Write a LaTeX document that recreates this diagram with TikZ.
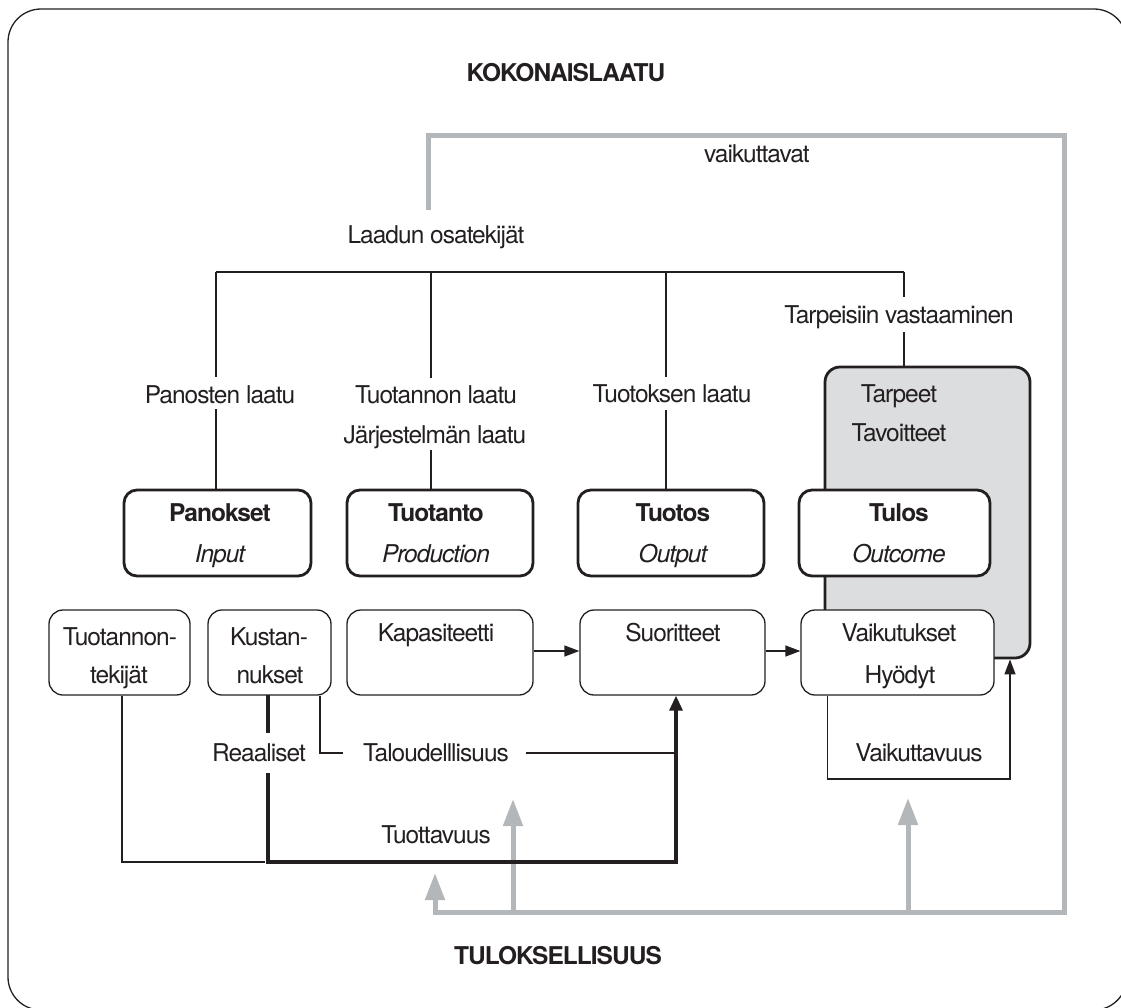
\documentclass[tikz,border=0pt]{standalone}
\usepackage{fontspec}
\setmainfont{TeX Gyre Heros}[LetterSpace=-4]
\usetikzlibrary{arrows.meta,calc}
\definecolor{ink}{HTML}{231F20}
\definecolor{loopgray}{HTML}{B4B7BA}
\definecolor{boxgray}{HTML}{DCDDDF}
\tikzset{
  lbl/.style={text=ink, inner sep=0pt, text height=17.6pt, text depth=0pt, font=\fontsize{24.5}{28}\selectfont},
  blbl/.style={lbl, font=\fontsize{24.5}{28}\selectfont\bfseries},
  ilbl/.style={lbl, font=\fontsize{24.5}{28}\selectfont\itshape},
  boxbase/.style={draw=ink, inner sep=0pt, fill=white},
  boldbox/.style={boxbase, rounded corners=13pt, line width=2.8pt},
  thinbox/.style={boxbase, rounded corners=14pt, line width=1.3pt},
  needbox/.style={draw=ink, fill=boxgray, rounded corners=15pt, line width=2.8pt, inner sep=0pt},
  thinl/.style={draw=ink, line width=1.3pt},
  thickl/.style={draw=ink, line width=3.2pt},
  grayl/.style={draw=loopgray, line width=5pt},
  smalltip/.style={-{Triangle[length=15pt,width=11pt]}},
  graytip/.style={-{Triangle[length=27pt,width=19pt]}}
}
\begin{document}
\begin{tikzpicture}[x=1pt,y=-1pt]
\useasboundingbox (0,0) rectangle (1121,1007);
\clip (0,0) rectangle (1121,1007);
% outer frame
\draw[ink, line width=1.3pt, rounded corners=33pt] (8,9) rectangle (1127,1010);

% headings
\node[blbl] (koko) at (566,73) {KOKONAISLAATU};
\node[blbl] (tulok) at (558,956) {TULOKSELLISUUS};
\node[lbl] (vaikuttavat) at (757,154) {vaikuttavat};
\node[lbl] (laadun) at (436,235) {Laadun osatekijät};

% gray feedback loop
\coordinate (gstart) at (428,210);
\coordinate (gtl) at (428,135);
\coordinate (gtr) at (1064,135);
\coordinate (gbr) at (1064,912);
\coordinate (gbl) at (435,912);
\coordinate (gtipA) at (435,873);
\coordinate (gfootB) at (513,912);
\coordinate (gtipB) at (513,799);
\coordinate (gfootC) at (908,912);
\coordinate (gtipC) at (908,798);
\draw[grayl, graytip] (gstart) -- (gtl) -- (gtr) -- (gbr) -- (gbl) -- (gtipA);
\draw[grayl, graytip] (gfootB) -- (gtipB);
\draw[grayl, graytip] (gfootC) -- (gtipC);

% quality labels
\node[lbl] (panl) at (220,395) {Panosten laatu};
\node[lbl] (tuotl) at (436,395) {Tuotannon laatu};
\node[lbl] (jarl) at (435,435) {Järjestelmän laatu};
\node[lbl] (tuotosl) at (672,394) {Tuotoksen laatu};
\node[lbl] (tarpv) at (899,315) {Tarpeisiin vastaaminen};

% needs box
\node[needbox, minimum width=205pt, minimum height=291pt] (tarp) at (927.5,512.5) {};
\node[lbl] (tarpeet) at (899,394) {Tarpeet};
\node[lbl] (tavoit) at (899,433) {Tavoitteet};

% main boxes
\node[boldbox, minimum width=187pt, minimum height=86pt] (panokset) at (217.5,533) {};
\node[boldbox, minimum width=186pt, minimum height=86pt] (tuotanto) at (440,533) {};
\node[boldbox, minimum width=186pt, minimum height=86pt] (tuotos) at (671,533) {};
\node[boldbox, minimum width=191pt, minimum height=86pt] (tulos) at (894.5,533) {};
\node[blbl] (panokset1) at (220,513) {Panokset};
\node[ilbl] (panokset2) at (220,554) {Input};
\node[blbl] (tuotanto1) at (436,513) {Tuotanto};
\node[ilbl] (tuotanto2) at (436,554) {Production};
\node[blbl] (tuotos1) at (673,513) {Tuotos};
\node[ilbl] (tuotos2) at (673,554) {Output};
\node[blbl] (tulos1) at (899,513) {Tulos};
\node[ilbl] (tulos2) at (899,554) {Outcome};

% lower boxes
\node[thinbox, minimum width=141pt, minimum height=85pt] (tuotek) at (119.5,652.5) {};
\node[thinbox, minimum width=123pt, minimum height=85pt] (kust) at (269.5,652.5) {};
\node[thinbox, minimum width=186pt, minimum height=85pt] (kap) at (440,652.5) {};
\node[thinbox, minimum width=185pt, minimum height=85pt] (suor) at (672.5,652.5) {};
\node[thinbox, minimum width=193pt, minimum height=85pt] (vaik) at (897.5,652.5) {};
\node[lbl] (tuotek1) at (120,637) {Tuotannon-};
\node[lbl] (tuotek2) at (119,675) {tekijät};
\node[lbl] (kust1) at (269,637) {Kustan-};
\node[lbl] (kust2) at (270,675) {nukset};
\node[lbl] (kap1) at (436,633) {Kapasiteetti};
\node[lbl] (suor1) at (673,633) {Suoritteet};
\node[lbl] (vaik1) at (899,633) {Vaikutukset};
\node[lbl] (vaik2) at (900,675) {Hyödyt};

% lower labels
\node[lbl] (reaal) at (259,753) {Reaaliset};
\node[lbl] (talo) at (436,753) {Taloudelllisuus};
\node[lbl] (tuottav) at (436,835) {Tuottavuus};
\node[lbl] (vaikuttav) at (919,753) {Vaikuttavuus};

% quality tree
\coordinate (t1) at (216,272);
\coordinate (t2) at (431,272);
\coordinate (t3) at (666,272);
\coordinate (t4) at (904,272);
\draw[thinl] (t1) -- (t4);
\draw[thinl] (t1) -- ($(t1 |- panl.north)+(0,-9)$);
\draw[thinl] ($(t1 |- panl.south)+(0,5)$) -- (t1 |- panokset.north);
\draw[thinl] (t2) -- ($(t2 |- tuotl.north)+(0,-8)$);
\draw[thinl] ($(t2 |- jarl.south)+(0,6)$) -- (t2 |- tuotanto.north);
\draw[thinl] (t3) -- ($(t3 |- tuotosl.north)+(0,-8)$);
\draw[thinl] ($(t3 |- tuotosl.south)+(0,7)$) -- (t3 |- tuotos.north);
\draw[thinl] (t4) -- ($(t4 |- tarpv.north)+(0,-9)$);
\draw[thinl] ($(t4 |- tarpv.south)+(0,8)$) -- (t4 |- tarp.north);

% flow arrows
\draw[thinl, smalltip] (kap.east |- 0,651) -- (suor.west |- 0,651);
\draw[thinl, smalltip] (suor.east |- 0,651) -- (vaik.west |- 0,651);

% productivity (thick)
\coordinate (kx) at (268,695);
\coordinate (pturn) at (676,862);
\coordinate (tjoin) at (265,862);
\draw[thickl] (kx) -- ($(kx |- reaal.north)+(0,-11)$);
\draw[thickl, -{Triangle[length=15pt,width=13pt]}] ($(kx |- reaal.south)+(0,11)$) |- (pturn) -- (pturn |- suor.south);
\draw[thinl] ($(tuotek.south)+(2.5,0)$) |- (tjoin);

% economy
\coordinate (talend) at (676,753);
\draw[thinl] ($(kust.south)+(50.5,0)$) |- ($(talo.west)+(-20,0)$);
\draw[thinl] ($(talo.east)+(17,0)$) -- (talend);

% effectiveness
\coordinate (vk) at (1010,779);
\draw[thinl, smalltip] ($(vaik.south west)+(27,0)$) |- (vk) -- (vk |- tarp.south);
\end{tikzpicture}
\end{document}
